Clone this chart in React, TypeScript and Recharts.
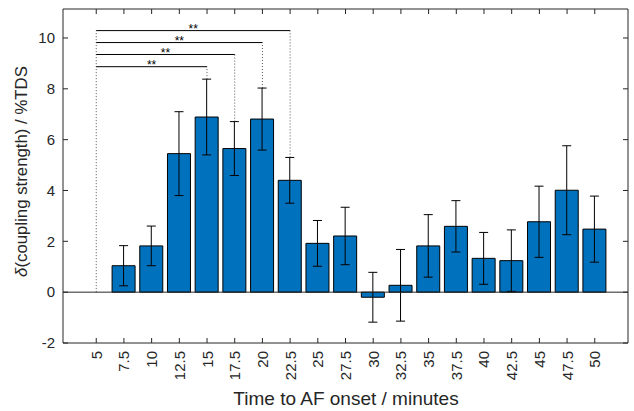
import React from "react";
import {
  ComposedChart,
  Bar,
  ErrorBar,
  XAxis,
  YAxis,
  ReferenceLine,
} from "recharts";

// time to AF onset (minutes)
const times = [5, 7.5, 10, 12.5, 15, 17.5, 20, 22.5, 25, 27.5, 30, 32.5, 35, 37.5, 40, 42.5, 45, 47.5, 50];
// mean delta coupling strength (%TDS)
const means = [0, 1.04, 1.82, 5.45, 6.89, 5.65, 6.81, 4.4, 1.92, 2.21, -0.2, 0.27, 1.82, 2.59, 1.33, 1.24, 2.77, 4.01, 2.48];
// symmetric error
const errs = [0, 0.79, 0.78, 1.65, 1.49, 1.06, 1.22, 0.9, 0.9, 1.13, 0.98, 1.41, 1.23, 1.01, 1.02, 1.21, 1.4, 1.75, 1.3];

const yTicks = [-2, 0, 2, 4, 6, 8, 10];

// significance brackets: all against 5 min
const sigRef = 5;
const sigTargets = [15, 17.5, 20, 22.5];
const sigLevels = [8.87, 9.35, 9.82, 10.29];
const sigLabels = ["**", "**", "**", "**"];

const data = times.map((t, i) => ({ t, mean: means[i], err: errs[i] }));

const AXIS = "#262626";
const BLUE = "#0072BD";
const X_DOMAIN = [2, 53];
const Y_DOMAIN = [-2, 11.14];

const XTick = (props: any) => {
  const { x, y, payload } = props;
  return (
    <text
      x={x}
      y={y}
      transform={`rotate(-90, ${x}, ${y})`}
      textAnchor="end"
      dominantBaseline="central"
      fontSize={15}
      fill={AXIS}
    >
      {payload.value}
    </text>
  );
};

const App: React.FC = () => {
  const refTop = Math.max(...sigLevels);
  return (
    <div
      style={{
        position: "absolute",
        left: 0,
        top: 0,
        width: 634,
        height: 411,
        background: "#fff",
        fontFamily: "'Liberation Sans', Arial, sans-serif",
      }}
    >
      <ComposedChart
        width={634}
        height={411}
        data={data}
        margin={{ top: 8, right: 5, bottom: 0, left: 0 }}
      >
        <XAxis
          xAxisId="b"
          dataKey="t"
          type="number"
          domain={X_DOMAIN}
          ticks={times}
          interval={0}
          height={68}
          stroke={AXIS}
          tickSize={-5}
          tickMargin={13}
          tick={<XTick />}
          allowDataOverflow
        />
        <XAxis
          xAxisId="t"
          orientation="top"
          dataKey="t"
          type="number"
          domain={X_DOMAIN}
          ticks={times}
          interval={0}
          height={1}
          stroke={AXIS}
          tickSize={-5}
          tickFormatter={() => ""}
          allowDataOverflow
        />
        <YAxis
          yAxisId="l"
          type="number"
          domain={Y_DOMAIN}
          ticks={yTicks}
          interval={0}
          width={63}
          stroke={AXIS}
          tickSize={-5}
          tickMargin={13}
          tick={{ fontSize: 15, fill: AXIS }}
          allowDataOverflow
        />
        <YAxis
          yAxisId="r"
          orientation="right"
          type="number"
          domain={Y_DOMAIN}
          ticks={yTicks}
          interval={0}
          width={1}
          stroke={AXIS}
          tickSize={-5}
          tickFormatter={() => ""}
          allowDataOverflow
        />
        <Bar
          xAxisId="b"
          yAxisId="l"
          dataKey="mean"
          barSize={23}
          fill={BLUE}
          stroke="#000"
          strokeWidth={1}
          isAnimationActive={false}
        >
          <ErrorBar dataKey="err" width={4.5} stroke="#000" strokeWidth={1} />
        </Bar>
        <ReferenceLine xAxisId="b" yAxisId="l" y={0} stroke={AXIS} strokeWidth={1} />
        <ReferenceLine
          xAxisId="b"
          yAxisId="l"
          segment={[
            { x: sigRef, y: 0 },
            { x: sigRef, y: refTop },
          ]}
          stroke={AXIS}
          strokeWidth={0.8}
          strokeDasharray="1 2"
        />
        {sigTargets.map((tg, i) => {
          const idx = times.indexOf(tg);
          const barTop = means[idx] + errs[idx];
          return (
            <React.Fragment key={`sig-${i}`}>
              <ReferenceLine
                xAxisId="b"
                yAxisId="l"
                segment={[
                  { x: tg, y: barTop },
                  { x: tg, y: sigLevels[i] },
                ]}
                stroke={AXIS}
                strokeWidth={0.8}
                strokeDasharray="1 2"
              />
              <ReferenceLine
                xAxisId="b"
                yAxisId="l"
                segment={[
                  { x: sigRef, y: sigLevels[i] },
                  { x: tg, y: sigLevels[i] },
                ]}
                stroke="#000"
                strokeWidth={1}
                label={{
                  value: sigLabels[i],
                  position: "top",
                  offset: -2.5,
                  fontSize: 12,
                  fill: "#000",
                }}
              />
            </React.Fragment>
          );
        })}
        <text x={346} y={405} textAnchor="middle" fontSize={19} fill={AXIS}>
          Time to AF onset / minutes
        </text>
        <text
          x={27}
          y={171.5}
          transform="rotate(-90, 27, 171.5)"
          textAnchor="middle"
          fontSize={16.8}
          fill={AXIS}
        >
          <tspan fontStyle="italic">δ</tspan>(coupling strength) / %TDS
        </text>
      </ComposedChart>
    </div>
  );
};

export default App;
